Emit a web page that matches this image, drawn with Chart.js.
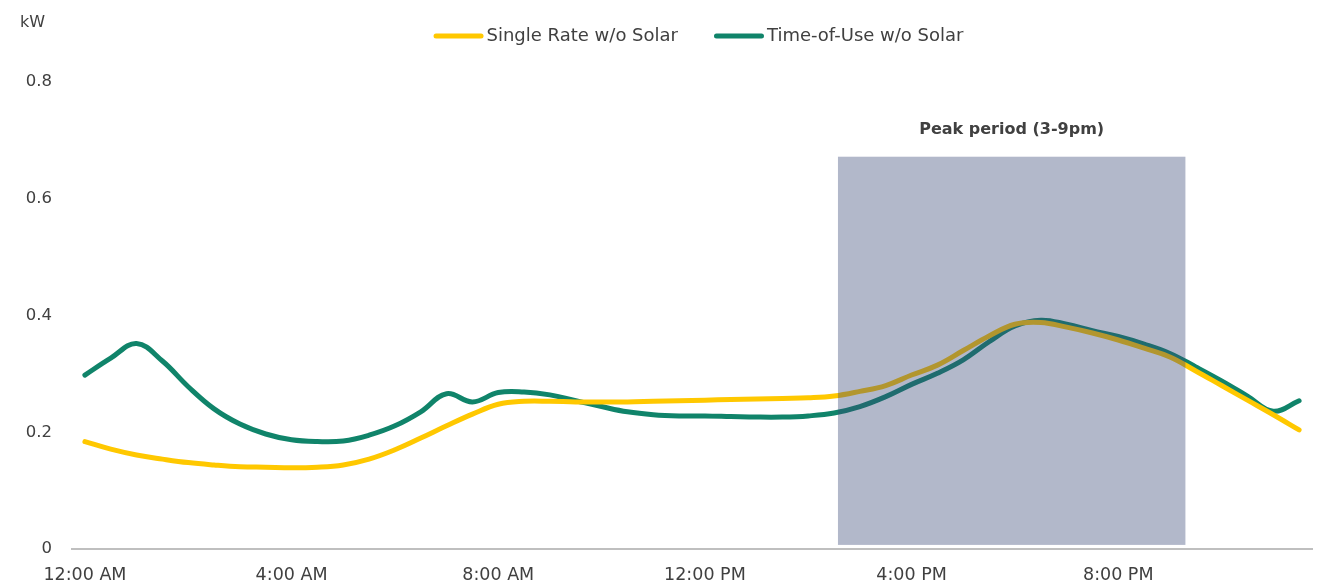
<!DOCTYPE html>
<html>
<head>
<meta charset="utf-8">
<title>Average household load profile</title>
<script src="https://cdn.jsdelivr.net/npm/chart.js@4.4.1/dist/chart.umd.min.js"></script>
<style>
  html, body { margin: 0; padding: 0; background: #ffffff; }
  #wrap { width: 1333px; height: 583px; }
</style>
</head>
<body>
<div id="wrap"><canvas id="load" width="1333" height="583"></canvas></div>
<script>
// Half-hourly intervals across one day
const timeLabels = [
  '12:00 AM', '12:30 AM', '1:00 AM', '1:30 AM', '2:00 AM', '2:30 AM', '3:00 AM', '3:30 AM',
  '4:00 AM', '4:30 AM', '5:00 AM', '5:30 AM', '6:00 AM', '6:30 AM', '7:00 AM', '7:30 AM',
  '8:00 AM', '8:30 AM', '9:00 AM', '9:30 AM', '10:00 AM', '10:30 AM', '11:00 AM', '11:30 AM',
  '12:00 PM', '12:30 PM', '1:00 PM', '1:30 PM', '2:00 PM', '2:30 PM', '3:00 PM', '3:30 PM',
  '4:00 PM', '4:30 PM', '5:00 PM', '5:30 PM', '6:00 PM', '6:30 PM', '7:00 PM', '7:30 PM',
  '8:00 PM', '8:30 PM', '9:00 PM', '9:30 PM', '10:00 PM', '10:30 PM', '11:00 PM', '11:30 PM'
];

// Average demand (kW), customers on a single rate tariff, no solar
const singleRate = [
  0.184, 0.171, 0.161, 0.154, 0.148, 0.144, 0.141, 0.140,
  0.139, 0.140, 0.144, 0.154, 0.170, 0.190, 0.211, 0.231,
  0.248, 0.253, 0.253, 0.252, 0.252, 0.252, 0.253, 0.254,
  0.255, 0.256, 0.257, 0.258, 0.259, 0.262, 0.270, 0.280,
  0.298, 0.315, 0.340, 0.365, 0.385, 0.388, 0.380, 0.370,
  0.358, 0.344, 0.329, 0.305, 0.280, 0.255, 0.230, 0.204
];

// Average demand (kW), customers on a time-of-use tariff, no solar
const timeOfUse = [
  0.298, 0.327, 0.352, 0.322, 0.278, 0.240, 0.214, 0.197,
  0.187, 0.184, 0.185, 0.195, 0.211, 0.235, 0.266, 0.252,
  0.268, 0.269, 0.264, 0.254, 0.244, 0.235, 0.230, 0.228,
  0.228, 0.227, 0.226, 0.226, 0.228, 0.233, 0.244, 0.261,
  0.282, 0.301, 0.324, 0.355, 0.382, 0.392, 0.385, 0.374,
  0.364, 0.351, 0.335, 0.312, 0.288, 0.262, 0.236, 0.254
];

const yTicks = [0, 0.2, 0.4, 0.6, 0.8];
const seriesNames = ['Single Rate w/o Solar', 'Time-of-Use w/o Solar'];
const unitLabel = 'kW';
const peakLabel = 'Peak period (3-9pm)';

// Shaded peak window, in category-index units along the time axis and kW on the value axis
const peakWindow = { from: 29.15, to: 42.6, low: 0.007, high: 0.672 };

const FONT = "'DejaVu Sans', 'Liberation Sans', sans-serif";
const TEXT = '#404040';
const YELLOW = '#FFC800';
const GREEN = '#10846A';

// Translucent band drawn over the lines, with its caption above
const peakBand = {
  id: 'peakBand',
  afterDatasetsDraw(chart) {
    const { ctx, scales: { x, y } } = chart;
    const x0 = x.getPixelForValue(peakWindow.from);
    const x1 = x.getPixelForValue(peakWindow.to);
    const yTop = y.getPixelForValue(peakWindow.high);
    const yBot = y.getPixelForValue(peakWindow.low);
    ctx.save();
    ctx.fillStyle = 'rgba(56, 72, 118, 0.39)';
    ctx.fillRect(x0, yTop, x1 - x0, yBot - yTop);
    ctx.fillStyle = TEXT;
    ctx.font = "bold 16px " + FONT;
    ctx.textAlign = 'center';
    ctx.textBaseline = 'middle';
    ctx.fillText(peakLabel, (x0 + x1) / 2, yTop - 27);
    ctx.restore();
  }
};

// Unit caption and line-sample legend along the top
const topCaptions = {
  id: 'topCaptions',
  afterDraw(chart) {
    const { ctx } = chart;
    ctx.save();
    ctx.fillStyle = TEXT;
    ctx.font = "16px " + FONT;
    ctx.textAlign = 'left';
    ctx.textBaseline = 'middle';
    ctx.fillText(unitLabel, 20, 23);

    ctx.font = "18px " + FONT;
    const sample = 50, gapText = 3, gapItem = 36, yMid = 36;
    const items = chart.data.datasets.map(ds => ({
      text: ds.label, color: ds.borderColor, w: ctx.measureText(ds.label).width
    }));
    const total = items.reduce((s, it) => s + sample + gapText + it.w, 0) + gapItem * (items.length - 1);
    let cx = chart.width / 2 + 32 - total / 2;
    items.forEach(it => {
      ctx.strokeStyle = it.color;
      ctx.lineWidth = 5;
      ctx.lineCap = 'round';
      ctx.beginPath();
      ctx.moveTo(cx + 2.5, yMid);
      ctx.lineTo(cx + sample - 2.5, yMid);
      ctx.stroke();
      ctx.fillStyle = TEXT;
      ctx.fillText(it.text, cx + sample + gapText, yMid);
      cx += sample + gapText + it.w + gapItem;
    });
    ctx.restore();
  }
};

new Chart(document.getElementById('load'), {
  type: 'line',
  data: {
    labels: timeLabels,
    datasets: [
      {
        label: seriesNames[0],
        data: singleRate,
        borderColor: YELLOW,
        backgroundColor: YELLOW,
        borderWidth: 5,
        borderCapStyle: 'round',
        borderJoinStyle: 'round',
        pointRadius: 0,
        tension: 0.4,
        fill: false
      },
      {
        label: seriesNames[1],
        data: timeOfUse,
        borderColor: GREEN,
        backgroundColor: GREEN,
        borderWidth: 5,
        borderCapStyle: 'round',
        borderJoinStyle: 'round',
        pointRadius: 0,
        tension: 0.4,
        fill: false
      }
    ]
  },
  options: {
    responsive: false,
    animation: false,
    layout: { padding: { top: 82, right: 21, bottom: 0, left: 0 } },
    plugins: {
      legend: { display: false },
      title: { display: false },
      tooltip: { enabled: false }
    },
    scales: {
      x: {
        type: 'category',
        offset: true,
        grid: { display: false, drawTicks: false },
        border: { display: true, color: '#BFBFBF', width: 2 },
        ticks: {
          autoSkip: false,
          maxRotation: 0,
          padding: 16,
          color: TEXT,
          font: { family: FONT, size: 17.5 },
          callback(value, index) {
            return index % 8 === 0 ? this.getLabelForValue(value) : '';
          }
        },
        afterFit(scale) { scale.height = 34; }
      },
      y: {
        min: 0,
        max: 0.8,
        grid: { display: false, drawTicks: false },
        border: { display: false },
        afterBuildTicks(scale) { scale.ticks = yTicks.map(v => ({ value: v })); },
        ticks: {
          padding: 20,
          color: TEXT,
          font: { family: FONT, size: 16.5 },
          callback(value) { return value === 0 ? '0' : value.toFixed(1); }
        },
        afterFit(scale) { scale.width = 72; }
      }
    }
  },
  plugins: [peakBand, topCaptions]
});
</script>
</body>
</html>
